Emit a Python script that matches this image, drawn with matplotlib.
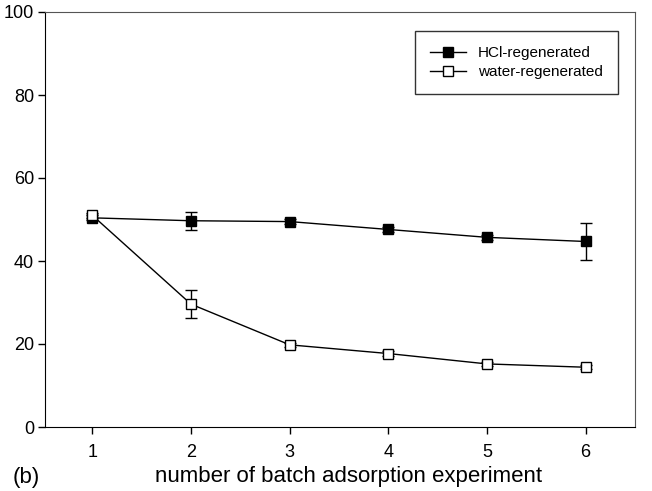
import matplotlib.pyplot as plt

plt.rcParams['font.family'] = ['Liberation Sans', 'DejaVu Sans']

runs = [1, 2, 3, 4, 5, 6]
hcl = [50.4, 49.7, 49.5, 47.6, 45.7, 44.7]
hcl_err = [0.6, 2.2, 0.5, 0.6, 0.6, 4.5]
water = [51.0, 29.6, 19.8, 17.7, 15.2, 14.4]
water_err = [0.6, 3.4, 0.5, 0.6, 0.4, 0.5]

fig = plt.figure(figsize=(6.52, 4.91), dpi=100)
ax = fig.add_axes([45 / 652, 64 / 491, 590 / 652, 415 / 491])

h1 = ax.errorbar(runs, hcl, yerr=hcl_err, color='black', lw=1, marker='s',
                 markersize=7, mfc='black', mec='black', capsize=4, elinewidth=1,
                 label='HCl-regenerated')
h2 = ax.errorbar(runs, water, yerr=water_err, color='black', lw=1, marker='s',
                 markersize=7, mfc='white', mec='black', capsize=4, elinewidth=1,
                 label='water-regenerated')

ax.set_xlim(0.52, 6.5)
ax.set_ylim(0, 100)
ax.set_xticks(runs)
ax.set_yticks([0, 20, 40, 60, 80, 100])
ax.tick_params(labelsize=13, direction='out', length=5, width=1)
ax.tick_params(axis='x', pad=7)
ax.tick_params(axis='y', pad=3)
for s in ['top', 'right']:
    ax.spines[s].set_color('#555555')

ax.set_xlabel('number of batch adsorption experiment', fontsize=16)
ax.xaxis.label.set_va('center')
ax.xaxis.set_label_coords(0.515, -0.12)
fig.text(13 / 652, 1 - 477 / 491, '(b)', fontsize=16, va='center')

leg = ax.legend(handles=[h1[0], h2[0]], labels=['HCl-regenerated', 'water-regenerated'],
                loc='upper right', bbox_to_anchor=(0.971, 0.954), borderaxespad=0,
                fontsize=11, frameon=True, fancybox=False, edgecolor='black',
                handlelength=2.3, borderpad=1.0, labelspacing=0.3)
leg.get_frame().set_linewidth(1)

fig.savefig('out.png', dpi=100)
